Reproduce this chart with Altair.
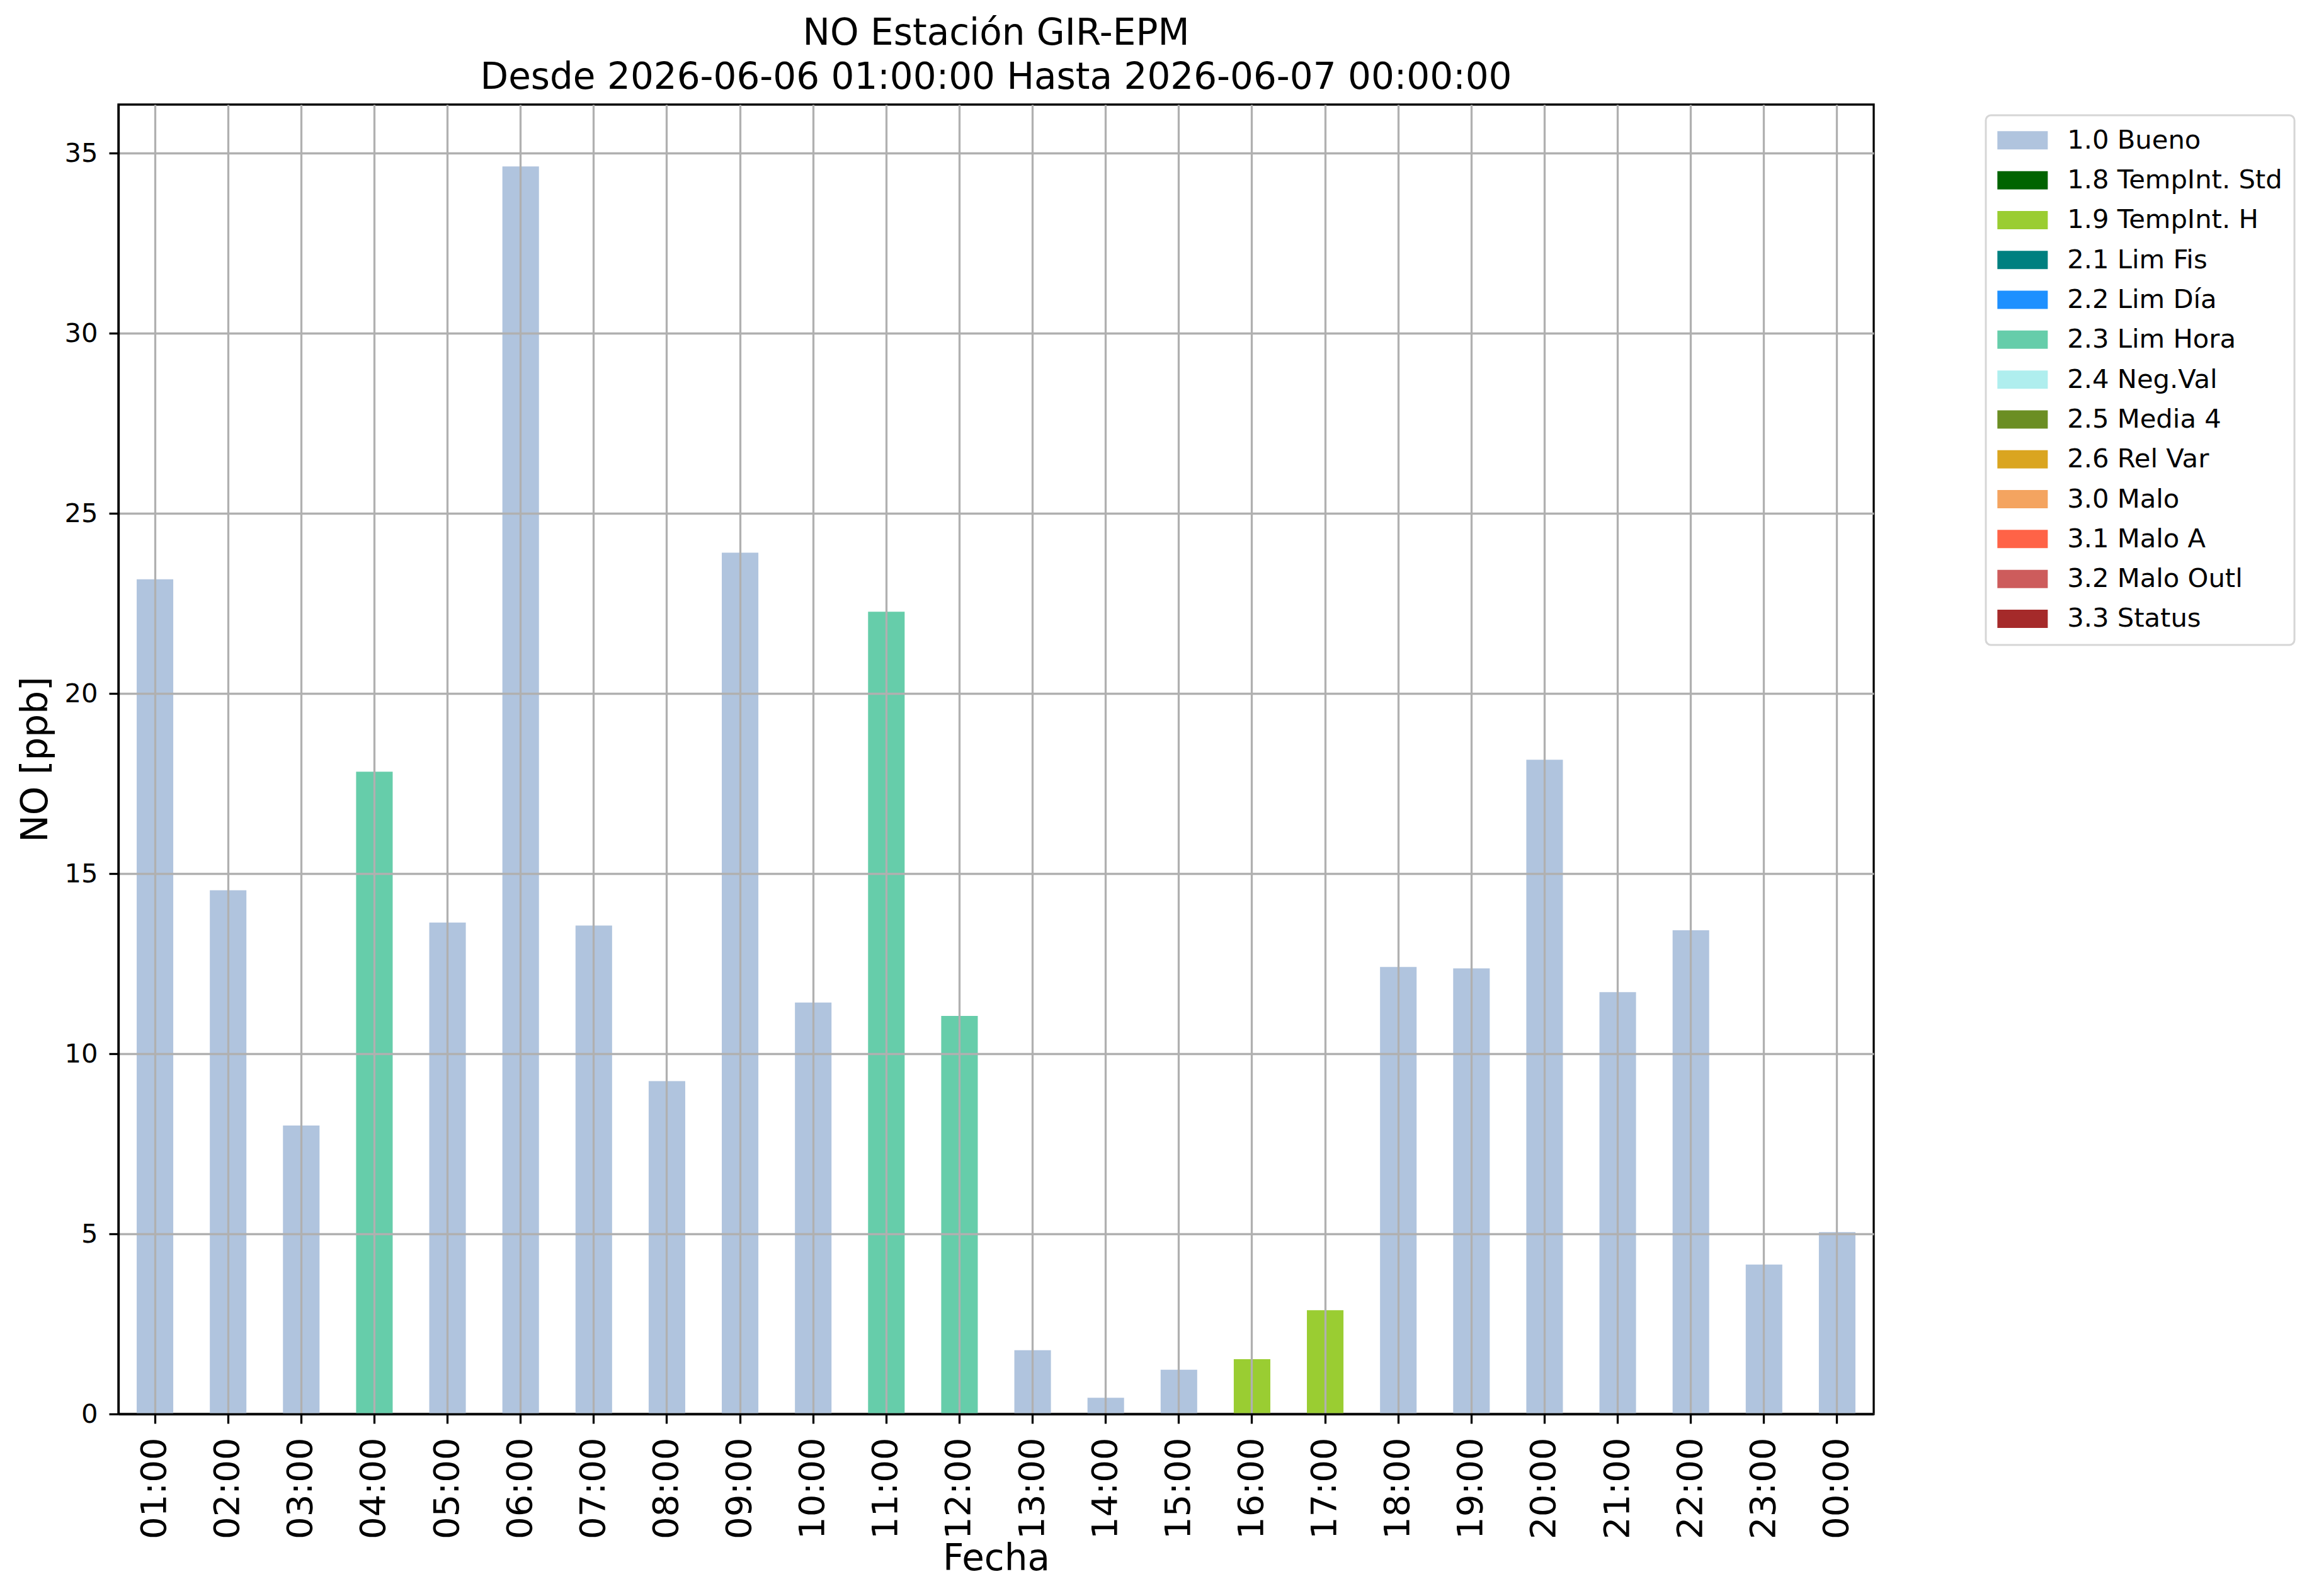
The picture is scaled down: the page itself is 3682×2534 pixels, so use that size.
import altair as alt
import pandas as pd

hours = ["01:00", "02:00", "03:00", "04:00", "05:00", "06:00", "07:00", "08:00",
         "09:00", "10:00", "11:00", "12:00", "13:00", "14:00", "15:00", "16:00",
         "17:00", "18:00", "19:00", "20:00", "21:00", "22:00", "23:00", "00:00"]

values = [23.17, 14.54, 8.01, 17.83, 13.64, 34.63, 13.56, 9.24,
          23.91, 11.42, 22.27, 11.05, 1.77, 0.45, 1.23, 1.52,
          2.88, 12.41, 12.37, 18.16, 11.71, 13.43, 4.15, 5.05]

flags = ["1.0 Bueno", "1.0 Bueno", "1.0 Bueno", "2.3 Lim Hora", "1.0 Bueno", "1.0 Bueno",
         "1.0 Bueno", "1.0 Bueno", "1.0 Bueno", "1.0 Bueno", "2.3 Lim Hora", "2.3 Lim Hora",
         "1.0 Bueno", "1.0 Bueno", "1.0 Bueno", "1.9 TempInt. H", "1.9 TempInt. H", "1.0 Bueno",
         "1.0 Bueno", "1.0 Bueno", "1.0 Bueno", "1.0 Bueno", "1.0 Bueno", "1.0 Bueno"]

flag_labels = ["1.0 Bueno", "1.8 TempInt. Std", "1.9 TempInt. H", "2.1 Lim Fis",
               "2.2 Lim Día", "2.3 Lim Hora", "2.4 Neg.Val", "2.5 Media 4",
               "2.6 Rel Var", "3.0 Malo", "3.1 Malo A", "3.2 Malo Outl", "3.3 Status"]

flag_colors = ["#b0c4de", "#006400", "#9acd32", "#008080", "#1e90ff", "#66cdaa",
               "#afeeee", "#6b8e23", "#daa520", "#f4a460", "#ff6347", "#cd5c5c", "#a52a2a"]

y_ticks = [0, 5, 10, 15, 20, 25, 30, 35]

title_lines = ["NO Estación GIR-EPM",
               "Desde 2026-06-06 01:00:00 Hasta 2026-06-07 00:00:00"]

df = pd.DataFrame({"hora": hours, "valor": values, "flag": flags})

W = 2787
H = 2079
FONT = "DejaVu Sans"

chart = alt.Chart(df).mark_bar().encode(
    x=alt.X(
        "hora:N",
        sort=hours,
        scale=alt.Scale(paddingInner=0.5, paddingOuter=0.25),
        axis=alt.Axis(
            title="Fecha",
            titleFontSize=58,
            titleFontWeight="normal",
            titleFont=FONT,
            titleColor="black",
            titleX=W / 2,
            titleY=247,
            titleAlign="center",
            titleBaseline="alphabetic",
            labelAngle=-90,
            labelAlign="right",
            labelBaseline="middle",
            labelFontSize=56,
            labelFont=FONT,
            labelColor="black",
            labelPadding=22,
            tickSize=15,
            tickWidth=3.3,
            tickColor="black",
            domainColor="black",
            domainWidth=3.3,
            grid=True,
            gridColor="#b0b0b0",
            gridWidth=3.3,
            bandPosition=0.5,
            zindex=1,
        ),
    ),
    y=alt.Y(
        "valor:Q",
        scale=alt.Scale(domain=[0, 36.35], nice=False, zero=True),
        axis=alt.Axis(
            values=y_ticks,
            title="NO [ppb]",
            titleFontSize=58,
            titleFontWeight="normal",
            titleFont=FONT,
            titleColor="black",
            titleAngle=-90,
            titleX=-114,
            titleY=H / 2,
            titleAlign="center",
            titleBaseline="alphabetic",
            labelFontSize=41.7,
            labelFont=FONT,
            labelColor="black",
            labelPadding=18,
            tickSize=15,
            tickWidth=3.3,
            tickColor="black",
            domainColor="black",
            domainWidth=3.3,
            grid=True,
            gridColor="#b0b0b0",
            gridWidth=3.3,
            zindex=1,
        ),
    ),
    color=alt.Color(
        "flag:N",
        scale=alt.Scale(domain=flag_labels, range=flag_colors),
        legend=alt.Legend(
            title=None,
            orient="none",
            legendX=2965,
            legendY=17,
            padding=19,
            strokeColor="#d6d6d6",
            cornerRadius=8,
            fillColor="white",
            labelFontSize=41.7,
            labelFont=FONT,
            labelColor="black",
            labelLimit=1000,
            labelOffset=50,
            rowPadding=20.3,
            symbolType="M-2.759,-1L2.759,-1L2.759,1L-2.759,1Z",
            symbolSize=841,
            symbolOffset=18.5,
            symbolStrokeWidth=0,
            symbolOpacity=1,
        ),
    ),
).properties(
    width=W,
    height=H,
    title=alt.TitleParams(
        text=title_lines,
        fontSize=58,
        fontWeight="normal",
        font=FONT,
        color="black",
        anchor="middle",
        frame="group",
        baseline="bottom",
        lineHeight=70,
        offset=-45,
    ),
    autosize=alt.AutoSizeParams(type="none"),
    padding={"left": 180, "top": 158, "right": 699, "bottom": 281},
).configure(
    font=FONT,
).configure_legend(
    strokeWidth=3,
).configure_view(
    stroke="black",
    strokeWidth=3.3,
)

chart.save("out.html", embed_options={"renderer": "svg", "actions": False})
